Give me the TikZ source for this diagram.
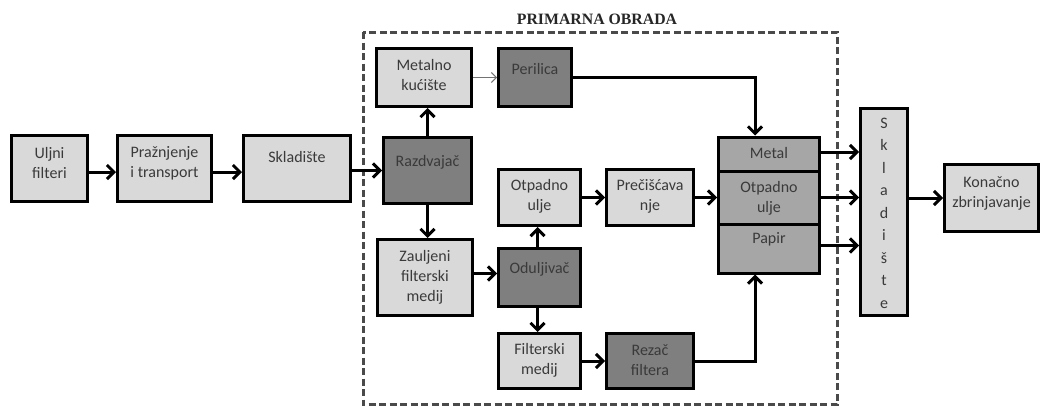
\documentclass[tikz,border=0pt]{standalone}
\usepackage{fontspec}
\setmainfont{Carlito}
\newfontfamily\titlefont{Liberation Serif}
\usetikzlibrary{arrows.meta}
\definecolor{lightfill}{HTML}{D9D9D9}
\definecolor{darkfill}{HTML}{7F7F7F}
\definecolor{midfill}{HTML}{A6A6A6}
\definecolor{txtgray}{HTML}{3A3A3A}
\definecolor{dashgray}{HTML}{4A4A4A}
\tikzset{
  boxbase/.style={draw=black, line width=3pt, rectangle, inner sep=0pt},
  lbox/.style={boxbase, fill=lightfill},
  dbox/.style={boxbase, fill=darkfill},
  mbox/.style={boxbase, fill=midfill},
  txt/.style={font=\fontsize{16}{20}\selectfont, text=txtgray, align=center, inner sep=0pt},
  arr/.style={line width=3pt, -{Straight Barb[length=7pt,width=14pt]}},
  thinarr/.style={line width=1pt, draw=black!55, -{Straight Barb[length=5pt,width=10pt]}},
  plainline/.style={line width=3pt}
}
\begin{document}
\begin{tikzpicture}[x=1pt,y=-1pt]
\useasboundingbox (0,0) rectangle (1042,407);
% dashed frame
\draw[dashgray, line width=3pt, dash pattern=on 7pt off 3.5pt] (363,32) rectangle (837,404.5);
\node[font=\titlefont\bfseries\fontsize{15.8}{18}\selectfont, text=black!85] (title) at (597,19.5) {PRIMARNA OBRADA};

% left chain
\node[lbox, minimum width=76, minimum height=66, label={[txt,yshift=5]center:Uljni\\filteri}] (uf) at (49.5,168.5) {};
\node[lbox, minimum width=94, minimum height=66, label={[txt,yshift=5]center:Pražnjenje\\i transport}] (pr) at (164.5,168.5) {};
\node[lbox, minimum width=107, minimum height=66, label={[txt,yshift=11]center:Skladište}] (sk) at (297,168.5) {};

% primary processing
\node[dbox, minimum width=88, minimum height=66, label={[txt,yshift=8]center:Razdvajač}] (rz) at (427.5,170.5) {};
\node[lbox, minimum width=95, minimum height=58, label={[txt,yshift=2]center:Metalno\\kućište}] (mk) at (424,77.5) {};
\node[dbox, minimum width=73, minimum height=58, label={[txt,yshift=8]center:Perilica}] (pe) at (535,77.5) {};
\node[lbox, minimum width=82, minimum height=56, label={[txt,yshift=1]center:Otpadno\\ulje}] (ou) at (539.5,197.5) {};
\node[lbox, minimum width=87, minimum height=56, label={[txt,yshift=1]center:Prečišćava\\nje}] (pc) at (650,197.5) {};
\node[lbox, minimum width=95, minimum height=76, label={[txt,yshift=0]center:Zauljeni\\filterski\\medij}] (zf) at (425,277.5) {};
\node[dbox, minimum width=82, minimum height=58, label={[txt,yshift=8]center:Oduljivač}] (od) at (539.5,277.5) {};
\node[lbox, minimum width=82, minimum height=55, label={[txt,yshift=1]center:Filterski\\medij}] (fm) at (539.5,361) {};
\node[dbox, minimum width=87, minimum height=55, label={[txt,yshift=1]center:Rezač\\filtera}] (rf) at (650,361) {};

% stacked output
\node[mbox, minimum width=101, minimum height=34, label={[txt,yshift=1]center:Metal}] (me) at (769,154) {};
\node[mbox, minimum width=101, minimum height=53, label={[txt,yshift=-1]center:Otpadno\\ulje}] (ol) at (769,197.5) {};
\node[mbox, minimum width=101, minimum height=49, label={[txt,yshift=9]center:Papir}] (pa) at (769,248.5) {};

% storage and final
\node[lbox, minimum width=47, minimum height=207, label={[txt,yshift=-1,font=\fontsize{16}{22.5}\selectfont]center:S\\k\\l\\a\\d\\i\\š\\t\\e}] (sl) at (884,212) {};
\node[lbox, minimum width=94, minimum height=67, label={[txt,yshift=5]center:Konačno\\zbrinjavanje}] (kz) at (991.5,198) {};

% connectors
\draw[arr] ([yshift=-3.5]uf.east) -- ([yshift=-3.5]pr.west);
\draw[arr] ([yshift=-3.5]pr.east) -- ([yshift=-3.5]sk.west);
\draw[arr] (sk.east |- rz) -- (rz.west);
\draw[arr] (rz.north) -- (rz.north |- mk.south);
\draw[arr] (rz.south) -- (rz.south |- zf.north);
\draw[thinarr] (mk.east |- pe) -- (pe.west);
\draw[arr] (pe.east) -| ([xshift=-14]me.north);
\draw[arr] (ou.east) -- (pc.west);
\draw[arr] (pc.east) -- (ol.west);
\draw[arr] ([yshift=4]zf.east) -- ([yshift=4]zf.east -| od.west);
\draw[arr] ([xshift=-2]od.north) -- ([xshift=-2]ou.south);
\draw[arr] ([xshift=-2]od.south) -- ([xshift=-2]fm.north);
\draw[arr] (fm.east) -- (rf.west);
\draw[arr] (rf.east) -| ([xshift=-14]pa.south);
\draw[arr] ([yshift=2]me.east) -- ([yshift=2]me.east -| sl.west);
\draw[arr] (ol.east) -- (ol.east -| sl.west);
\draw[arr] ([yshift=3]pa.east) -- ([yshift=3]pa.east -| sl.west);
\draw[arr] (sl.east |- kz) -- (kz.west);
\end{tikzpicture}
\end{document}
